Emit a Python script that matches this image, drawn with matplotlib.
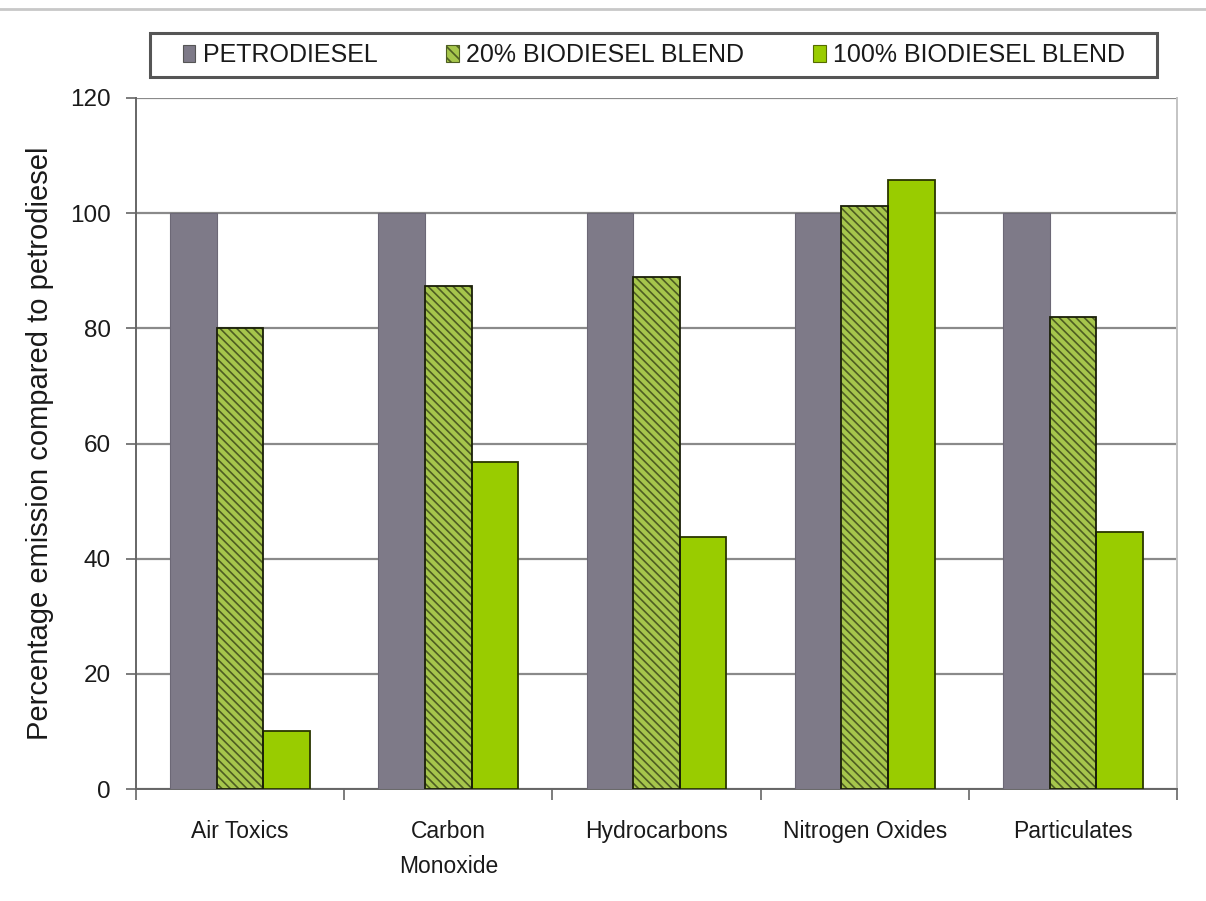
import matplotlib
matplotlib.use("Agg")
import matplotlib.pyplot as plt
import numpy as np
from matplotlib.lines import Line2D
from matplotlib.patches import Patch, Rectangle

categories = ["Air Toxics", "Carbon\nMonoxide", "Hydrocarbons", "Nitrogen Oxides", "Particulates"]
series_names = ["PETRODIESEL", "20% BIODIESEL BLEND", "100% BIODIESEL BLEND"]
petrodiesel = [100, 100, 100, 100, 100]
blend_20 = [80, 87.4, 89, 101.2, 82]
blend_100 = [10, 56.8, 43.8, 105.8, 44.7]
y_ticks = [0, 20, 40, 60, 80, 100, 120]
y_label = "Percentage emission compared to petrodiesel"

GRAY = "#7e7a88"
HATCH_BG = "#a6c64c"
HATCH_LINE = "#4e5e22"
GREEN = "#99cc00"
TEXT = "#1a1a1a"

plt.rcParams["font.family"] = ["Liberation Sans", "DejaVu Sans"]
plt.rcParams["hatch.linewidth"] = 1.2

W, H = 1206, 901
fig = plt.figure(figsize=(W / 100, H / 100), dpi=100)
ax = fig.add_axes([136 / W, 1 - 789 / H, (1177 - 136) / W, (789 - 98) / H])

x = np.arange(len(categories))
w = 0.224

ax.bar(x - w, petrodiesel, w, color=GRAY, edgecolor="#6c6876", linewidth=0.8, zorder=3)
# hatched blend: fill + hatch lines, then a dark outline on top
ax.bar(x, blend_20, w, facecolor=HATCH_BG, edgecolor=HATCH_LINE, hatch="\\\\\\\\",
       linewidth=0, zorder=3)
ax.bar(x, blend_20, w, facecolor="none", edgecolor="#1a1f08", linewidth=1.3, zorder=4)
ax.bar(x + w, blend_100, w, color=GREEN, edgecolor="#2a3600", linewidth=1.3, zorder=3)

ax.set_xlim(-0.5, len(categories) - 0.5)
ax.set_ylim(0, 120)
ax.set_yticks(y_ticks)
ax.set_yticklabels([str(t) for t in y_ticks], fontsize=17.5, color=TEXT)
ax.yaxis.grid(True, color="#8a8a8a", linewidth=1.6, zorder=0)
ax.set_axisbelow(True)

ax.set_xticks(x)
ax.set_xticklabels(categories, fontsize=16.5, color=TEXT, linespacing=1.7)
ax.tick_params(axis="x", length=0, pad=22)
ax.set_xticks(np.arange(-0.5, len(categories)), minor=True)
ax.tick_params(axis="x", which="minor", length=8, width=1.2, color="#666666", direction="out")
ax.tick_params(axis="y", length=7, width=1.2, color="#666666", direction="out", pad=11)

ax.spines["top"].set_visible(False)
ax.spines["right"].set_color("#c4c4c4")
ax.spines["right"].set_linewidth(1.4)
for side in ["left", "bottom"]:
    ax.spines[side].set_color("#666666")
    ax.spines[side].set_linewidth(1.4)

ax.set_ylabel(y_label, fontsize=21, color=TEXT, labelpad=12)

# legend: framed strip above the plot
fig.add_artist(Rectangle((150 / W, 1 - 77 / H), (1157 - 150) / W, (77 - 33) / H,
                         transform=fig.transFigure, facecolor="white",
                         edgecolor="#555555", linewidth=2.2))
handles = [
    Patch(facecolor=GRAY, edgecolor="#555555", linewidth=0.8),
    Patch(facecolor=HATCH_BG, edgecolor=HATCH_LINE, hatch="\\\\\\", linewidth=0.8),
    Patch(facecolor=GREEN, edgecolor="#556b00", linewidth=0.8),
]
leg = fig.legend(handles, series_names, loc="center", ncol=3,
                 bbox_to_anchor=(654 / W, 1 - 55 / H), frameon=False,
                 fontsize=18, handlelength=0.5, handleheight=0.65, handletextpad=0.3,
                 columnspacing=2.75, borderpad=0.2)
for t in leg.get_texts():
    t.set_color(TEXT)

fig.add_artist(Line2D([0, 1], [1 - 9 / H, 1 - 9 / H], transform=fig.transFigure,
                      color="#c8c8c8", linewidth=2))

fig.savefig("out.png", dpi=100)
